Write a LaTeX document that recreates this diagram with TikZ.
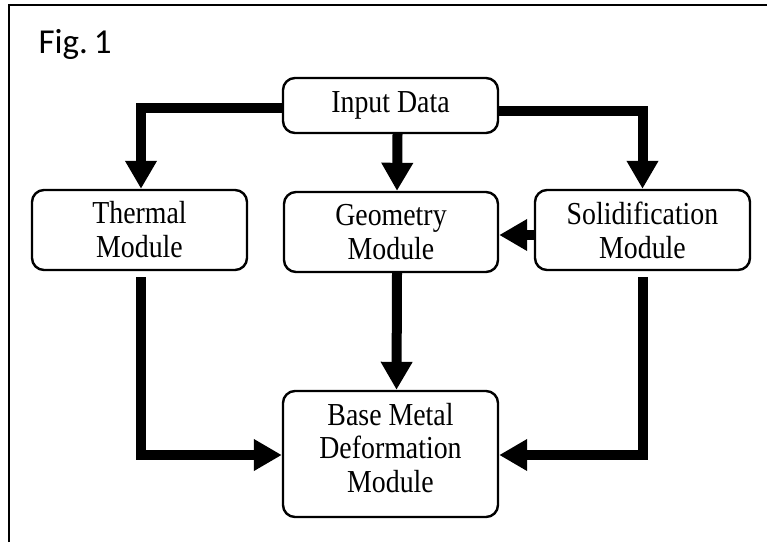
\documentclass[tikz,border=0pt]{standalone}
\usepackage{fontspec}
\setmainfont{Liberation Serif}[FakeStretch=0.87]
\newfontfamily\figfont{Carlito}
\usetikzlibrary{arrows.meta}
\begin{document}
\begin{tikzpicture}[x=1pt,y=-1pt,
  modbox/.style={draw, line width=2.4pt, rounded corners=12pt, inner sep=0pt,
     align=center, font=\fontsize{32}{34}\selectfont},
  modtext/.style={inner sep=0pt, align=center, font=\fontsize{32}{33.5}\selectfont},
  arr/.style={line width=10pt, -{Triangle[width=30pt,length=28pt]}}]
\useasboundingbox (0,0) rectangle (767,542);
\fill[white] (0,0) rectangle (767,542);
\draw[line width=2pt] (8.5,542) -- (8.5,4.5) -- (767,4.5);
\node[anchor=base west, font=\figfont\fontsize{35}{40}\selectfont] (fig) at (35,53) {Fig.\kern-2pt\ 1};

\node[modbox, minimum width=215pt, minimum height=55pt] (inp) at (390.5,105.5) {Input Data};
\node[modbox, minimum width=215pt, minimum height=80pt] (therm) at (139.5,230) {Thermal\\Module};
\node[modbox, minimum width=214pt, minimum height=80pt] (geom) at (391,232) {Geometry\\Module};
\node[modbox, minimum width=215pt, minimum height=80pt] (solid) at (642.5,230) {Solidification\\Module};
\node[modbox, minimum width=215pt, minimum height=126pt] (base) at (390.5,454) {};
\node[modtext] (basetxt) at ([yshift=6pt]base.center) {Base Metal\\Deformation\\Module};

\draw[arr] ([yshift=-2.5pt]inp.west) -| ([xshift=1.5pt]therm.north);
\draw[arr] ([yshift=-5.5pt]inp.east) -| (solid.north);
\draw[arr] ([xshift=7pt]inp.south) -- ([xshift=6pt]geom.north);
\draw[arr] ([yshift=-5pt]solid.west) -- ([yshift=-3pt]geom.east);
\draw[arr] ([xshift=1.5pt,yshift=-6pt]therm.south) |- ([yshift=-1pt]base.west);
\draw[arr] ([xshift=6pt]geom.south) -- ([xshift=6pt]base.north);
\draw[arr] ([yshift=-6pt]solid.south) |- ([yshift=-1pt]base.east);
\end{tikzpicture}
\end{document}
